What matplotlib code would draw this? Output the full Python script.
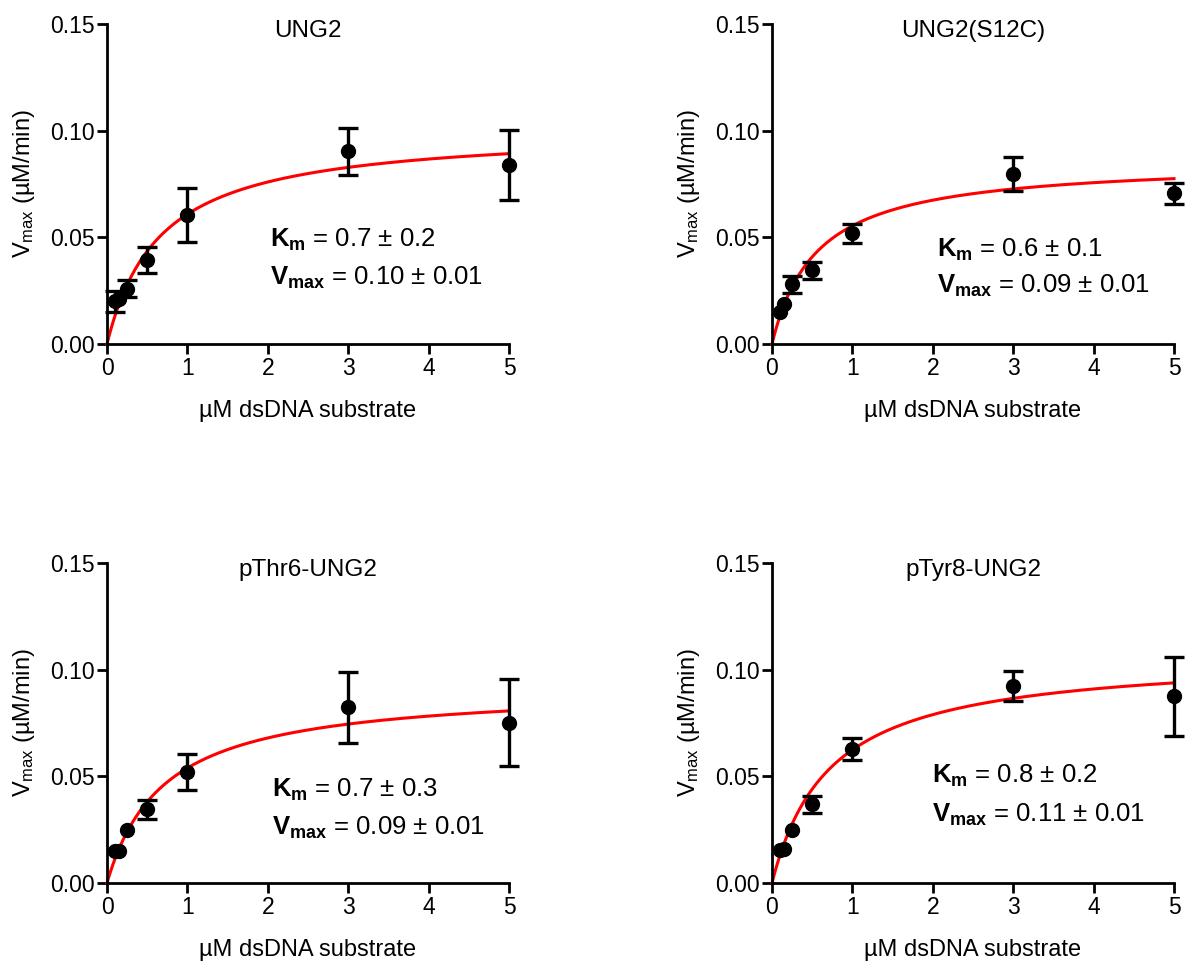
import numpy as np
import matplotlib
matplotlib.use("Agg")
import matplotlib.pyplot as plt

plt.rcParams['font.family'] = ['Liberation Sans', 'DejaVu Sans']
plt.rcParams['mathtext.fontset'] = 'custom'
plt.rcParams['mathtext.rm'] = 'Liberation Sans'
plt.rcParams['mathtext.bf'] = 'Liberation Sans:bold'
plt.rcParams['mathtext.it'] = 'Liberation Sans:italic'

# substrate concentrations (uM)
conc = [0.1, 0.15, 0.25, 0.5, 1, 3, 5]

titles = ['UNG2', 'UNG2(S12C)', 'pThr6-UNG2', 'pTyr8-UNG2']

# mean rates and error bar half-widths
# (0 = bar hidden behind the symbol)
rate_ung2 = [0.0200, 0.0213, 0.0260, 0.0394, 0.0606, 0.0904, 0.0839]
err_ung2 = [0.0050, 0.0, 0.0040, 0.0060, 0.0126, 0.0110, 0.0164]
rate_s12c = [0.0151, 0.0189, 0.0280, 0.0345, 0.0518, 0.0798, 0.0707]
err_s12c = [0.0, 0.0, 0.0041, 0.0038, 0.0045, 0.0080, 0.0050]
rate_pthr = [0.0148, 0.0151, 0.0247, 0.0345, 0.0522, 0.0823, 0.0752]
err_pthr = [0.0, 0.0, 0.0, 0.0043, 0.0084, 0.0165, 0.0202]
rate_ptyr = [0.0155, 0.0161, 0.0248, 0.0368, 0.0627, 0.0924, 0.0876]
err_ptyr = [0.0, 0.0, 0.0, 0.0040, 0.0052, 0.0070, 0.0185]

rates = [rate_ung2, rate_s12c, rate_pthr, rate_ptyr]
errs = [err_ung2, err_s12c, err_pthr, err_ptyr]

# Michaelis-Menten fit parameters (Km, Vmax) used to draw the red curves
km_fit = [0.66, 0.554, 0.709, 0.719]
vmax_fit = [0.101, 0.0861, 0.0921, 0.1073]

# text shown on each panel
km_txt = ['0.7 \u00b1 0.2', '0.6 \u00b1 0.1', '0.7 \u00b1 0.3', '0.8 \u00b1 0.2']
vmax_txt = ['0.10 \u00b1 0.01', '0.09 \u00b1 0.01', '0.09 \u00b1 0.01', '0.11 \u00b1 0.01']
txt_pos = [(2.03, 0.0455, 0.0277), (2.05, 0.0408, 0.0239),
           (2.05, 0.0403, 0.0225), (1.99, 0.0469, 0.0286)]

fig = plt.figure(figsize=(11.85, 9.64), dpi=100)

W, H = 1185, 964
boxes = [(107, 24, 509, 344), (772, 24, 1174, 344),
         (107, 563, 509, 883), (772, 563, 1174, 883)]

xs = np.linspace(0, 5, 200)

for i in range(4):
    l, t, r, b = boxes[i]
    ax = fig.add_axes([l / W, 1 - b / H, (r - l) / W, (b - t) / H])
    km, vm = km_fit[i], vmax_fit[i]
    ax.plot(xs, vm * xs / (km + xs), color='red', lw=2.2, zorder=2, clip_on=False)

    x = np.array(conc)
    y = np.array(rates[i])
    e = np.array(errs[i])
    m = e > 0
    ax.errorbar(x[m], y[m], yerr=e[m], fmt='none', ecolor='black',
                elinewidth=2.4, capsize=7, capthick=2.4, zorder=3, clip_on=False)
    ax.plot(x, y, 'o', color='black', ms=10, zorder=4, clip_on=False)

    ax.set_xlim(0, 5)
    ax.set_ylim(0, 0.15)
    ax.set_xticks([0, 1, 2, 3, 4, 5])
    ax.set_yticks([0, 0.05, 0.10, 0.15])
    ax.set_yticklabels(['0.00', '0.05', '0.10', '0.15'])
    for s in ['top', 'right']:
        ax.spines[s].set_visible(False)
    for s in ['left', 'bottom']:
        ax.spines[s].set_linewidth(2.0)
    ax.tick_params(width=2.0, length=7, labelsize=16.5, direction='out', pad=2)
    ax.set_xlabel('\u00b5M dsDNA substrate', fontsize=17)
    ax.set_ylabel('V$_{\\mathrm{max}}$ (\u00b5M/min)', fontsize=17)
    ax.xaxis.set_label_coords(0.5, -0.175)
    ax.yaxis.set_label_coords(-0.175, 0.5)
    ax.text(2.5, 0.1465, titles[i], ha='center', va='center', fontsize=17.5)
    tx, ky, vy = txt_pos[i]
    ax.text(tx, ky, r'$\mathbf{K_m}$ = ' + km_txt[i], fontsize=18.5, va='baseline')
    ax.text(tx, vy, r'$\mathbf{V_{max}}$ = ' + vmax_txt[i], fontsize=18.5, va='baseline')

fig.savefig('out.png', dpi=100)
